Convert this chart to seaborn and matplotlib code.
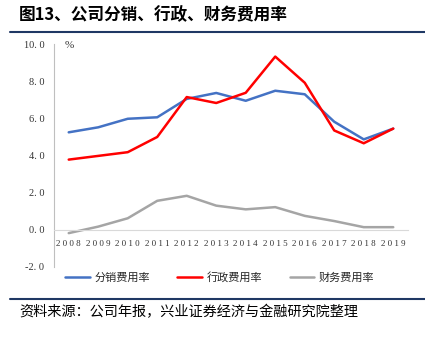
import matplotlib
matplotlib.use("Agg")
import matplotlib.pyplot as plt
import seaborn as sns
import pandas as pd
import numpy as np

years = ["2008", "2009", "2010", "2011", "2012", "2013", "2014", "2015", "2016", "2017", "2018", "2019"]
fenxiao = [5.25, 5.52, 5.98, 6.06, 7.05, 7.37, 6.95, 7.49, 7.30, 5.82, 4.87, 5.45]
xingzheng = [3.78, 3.98, 4.18, 5.00, 7.15, 6.83, 7.38, 9.33, 7.92, 5.35, 4.66, 5.45]
caiwu = [-0.18, 0.17, 0.62, 1.56, 1.83, 1.30, 1.10, 1.22, 0.75, 0.47, 0.14, 0.14]
series_names = ["分销费用率", "行政费用率", "财务费用率"]
colors = ["#4472C4", "#FF0000", "#A5A5A5"]
yticks = [-2.0, 0.0, 2.0, 4.0, 6.0, 8.0, 10.0]

sns.set_style("white")
plt.rcParams['font.family'] = ['Noto Sans CJK SC', 'DejaVu Sans']

df = pd.DataFrame({
    "year": list(range(len(years))) * 3,
    "value": fenxiao + xingzheng + caiwu,
    "series": sum([[n] * len(years) for n in series_names], []),
})

fig = plt.figure(figsize=(4.25, 3.37), dpi=100)
ax = fig.add_axes([0.127, 0.208, 0.833, 0.661])
sns.lineplot(data=df, x="year", y="value", hue="series", palette=colors,
             linewidth=1.8, ax=ax, legend=False)

ax.set_xlim(-0.5, len(years) - 0.5)
ax.set_ylim(-2, 10)
ax.set_yticks(yticks)
ax.set_yticklabels([f"{v:.1f}".replace(".", ". ") for v in yticks])
ax.set_xticks(range(len(years)))
ax.set_xticklabels([" ".join(list(y)) for y in years])
ax.set_xticks(np.arange(-0.5, len(years), 1), minor=True)
ax.tick_params(axis="x", which="major", length=0, pad=7, labelsize=6.5,
               labelfontfamily="Liberation Serif", labelcolor="#333333")
ax.tick_params(axis="x", which="minor", length=3, color="#BFBFBF", direction="out")
ax.tick_params(axis="y", length=4, color="#BFBFBF", direction="out", pad=3,
               labelsize=7.5, labelfontfamily="Liberation Serif", labelcolor="#333333")
ax.set_xlabel("")
ax.set_ylabel("")

for s in ["top", "right"]:
    ax.spines[s].set_visible(False)
ax.spines["bottom"].set_position(("data", 0))
ax.spines["bottom"].set_color("#D9D9D9")
ax.spines["left"].set_color("#BFBFBF")
ax.grid(False)

ax.text(0.03, 0.995, "%", transform=ax.transAxes, fontsize=8,
        fontfamily="Liberation Serif", va="center", ha="left", color="#333333")

# Legend
handles = [plt.Line2D([], [], color=c, lw=1.8) for c in colors]
fig.legend(handles, series_names, loc="center", bbox_to_anchor=(0.517, 0.178),
           ncol=3, frameon=False, fontsize=8, handlelength=2.2, columnspacing=2.5,
           handletextpad=0.4)

# Title
fig.text(0.045, 0.955, "图13、公司分销、行政、财务费用率", fontsize=12,
         fontweight="bold", ha="left", va="center", color="#000000")
fig.add_artist(plt.Line2D([0.024, 1.0], [0.905, 0.905], color="#1F3864", lw=1.5,
                          transform=fig.transFigure))
# Footer
fig.add_artist(plt.Line2D([0.024, 1.0], [0.112, 0.112], color="#1F3864", lw=1.5,
                          transform=fig.transFigure))
fig.text(0.045, 0.075, "资料来源：公司年报，兴业证券经济与金融研究院整理", fontsize=10.2,
         ha="left", va="center", color="#000000")

fig.savefig("out.png", dpi=100)
